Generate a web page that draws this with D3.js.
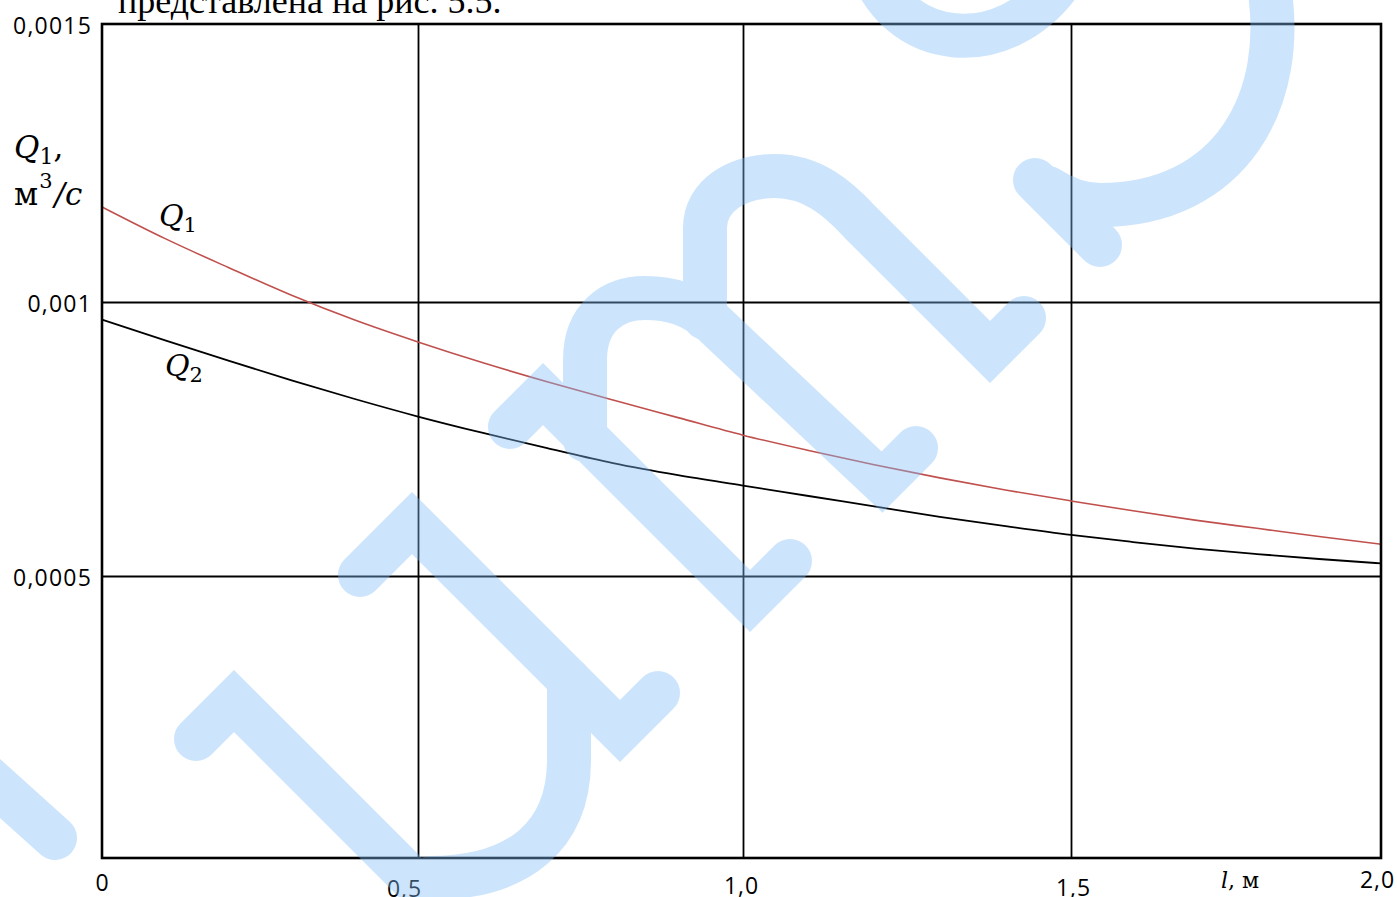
<!DOCTYPE html>
<html>
<head>
<meta charset="utf-8">
<script src="https://cdn.jsdelivr.net/npm/d3@7"></script>
<style>
  html, body { margin: 0; padding: 0; background: #fff; }
  svg { display: block; }
</style>
</head>
<body>
<svg id="chart" width="1397" height="897"></svg>
<script>
// Pipe length l, m
const lengths = [0, 0.1, 0.2, 0.3, 0.4, 0.5, 0.6, 0.7, 0.8, 0.9, 1.0,
                 1.1, 1.2, 1.3, 1.4, 1.5, 1.6, 1.7, 1.8, 1.9, 2.0];
// Flow rate Q1, m^3/s
const q1 = [0.001171, 0.001114, 0.001062, 0.001012, 0.000967, 0.000927, 0.000889,
            0.000854, 0.000821, 0.000789, 0.000757, 0.000729, 0.000703, 0.000679,
            0.000657, 0.000637, 0.000619, 0.000602, 0.000587, 0.000572, 0.000558];
// Flow rate Q2, m^3/s
const q2 = [0.000968, 0.000930, 0.000893, 0.000857, 0.000823, 0.000791, 0.000761,
            0.000733, 0.000706, 0.000684, 0.000665, 0.000646, 0.000627, 0.000608,
            0.000591, 0.000575, 0.000562, 0.000550, 0.000540, 0.000531, 0.000523];

const xTicks = [0, 0.5, 1.0, 1.5, 2.0];
const xTickLabels = ["0", "0,5", "1,0", "1,5", "2,0"];
const yTicks = [0, 0.0005, 0.001, 0.0015];
const yTickLabels = ["", "0,0005", "0,001", "0,0015"];

// ---- layout ----
const svg = d3.select("#chart");
const plot = { left: 102, right: 1381, top: 24, bottom: 858 };
// the printed grid is slightly uneven, so each grid cell gets its own span
const x = d3.scaleLinear().domain(xTicks).range([102, 418, 743, 1071, 1381]);
const y = d3.scaleLinear().domain(yTicks).range([858, 576, 302, 24]);
const xLabelNudge = [[0, -2], [-14, 4], [-2, 1], [2, 3], [-4, -5]];

const sans = "'Open Sans', 'DejaVu Sans', sans-serif";
const serif = "'Liberation Serif', 'DejaVu Serif', serif";
const math = "'DejaVu Serif', 'Liberation Serif', serif";

// running text of the page above the figure
svg.append("text")
  .attr("x", 118).attr("y", 13)
  .attr("font-family", serif).attr("font-size", 36).attr("fill", "#000")
  .text("представлена на рис. 5.5.");

// grid
const grid = svg.append("g");
grid.append("g")
  .attr("transform", `translate(0,${plot.bottom})`)
  .call(d3.axisBottom(x).tickValues([0.5, 1.0, 1.5])
        .tickSize(-(plot.bottom - plot.top)).tickFormat(""))
  .call(g => g.select(".domain").remove())
  .call(g => g.selectAll("line").attr("stroke", "#000").attr("stroke-width", 1.8));
grid.append("g")
  .attr("transform", `translate(${plot.left},0)`)
  .call(d3.axisLeft(y).tickValues([0.0005, 0.001])
        .tickSize(-(plot.right - plot.left)).tickFormat(""))
  .call(g => g.select(".domain").remove())
  .call(g => g.selectAll("line").attr("stroke", "#000").attr("stroke-width", 1.8));

// curves
const line = d3.line().x((d, i) => x(lengths[i])).y(d => y(d)).curve(d3.curveMonotoneX);
svg.append("path").datum(q1).attr("d", line)
  .attr("fill", "none").attr("stroke", "#c0504d").attr("stroke-width", 1.6);
svg.append("path").datum(q2).attr("d", line)
  .attr("fill", "none").attr("stroke", "#000").attr("stroke-width", 1.8);

// frame
svg.append("rect")
  .attr("x", plot.left).attr("y", plot.top)
  .attr("width", plot.right - plot.left).attr("height", plot.bottom - plot.top)
  .attr("fill", "none").attr("stroke", "#000").attr("stroke-width", 2.6);

// tick labels
svg.append("g")
  .attr("transform", `translate(${plot.left},0)`)
  .call(d3.axisLeft(y).tickValues(yTicks.slice(1)).tickSize(0).tickPadding(10)
        .tickFormat(d => yTickLabels[yTicks.indexOf(d)]))
  .call(g => g.select(".domain").remove())
  .call(g => g.selectAll("text")
        .attr("font-family", sans).attr("font-size", 23).attr("fill", "#000")
        .attr("letter-spacing", 1.2).attr("dy", "0.42em"));

svg.append("g")
  .attr("transform", `translate(0,${plot.bottom})`)
  .call(d3.axisBottom(x).tickValues(xTicks).tickSize(0).tickPadding(0)
        .tickFormat((d, i) => xTickLabels[i]))
  .call(g => g.select(".domain").remove())
  .call(g => g.selectAll("text")
        .attr("font-family", sans).attr("font-size", 23).attr("fill", "#000")
        .attr("letter-spacing", 1)
        .attr("y", 35).attr("dy", 0)
        .attr("dx", (d, i) => xLabelNudge[i][0])
        .attr("transform", (d, i) => `translate(0,${xLabelNudge[i][1]})`));

// axis titles
const yTitle = svg.append("g").attr("font-family", math).attr("fill", "#000");
const t1 = yTitle.append("text").attr("x", 14).attr("y", 158).attr("font-size", 31);
t1.append("tspan").attr("font-style", "italic").text("Q");
t1.append("tspan").attr("font-size", 22).attr("dy", 6).text("1");
t1.append("tspan").attr("dy", -6).text(",");
const t2 = yTitle.append("text").attr("x", 14).attr("y", 205).attr("font-size", 31);
t2.append("tspan").text("м");
t2.append("tspan").attr("font-size", 21).attr("dy", -17).attr("dx", 1).text("3");
t2.append("tspan").attr("dy", 17).attr("dx", 2).attr("font-style", "italic").text("/c");

const xTitle = svg.append("text").attr("x", 1221).attr("y", 888)
  .attr("font-family", math).attr("font-size", 22).attr("fill", "#000");
xTitle.append("tspan").attr("font-style", "italic").text("l");
xTitle.append("tspan").text(", м");

// curve labels
function curveLabel(px, py, sub) {
  const t = svg.append("text").attr("x", px).attr("y", py)
    .attr("font-family", math).attr("font-size", 30).attr("fill", "#000");
  t.append("tspan").attr("font-style", "italic").text("Q");
  t.append("tspan").attr("font-size", 21).attr("dy", 6).text(sub);
}
curveLabel(159, 226, "1");
curveLabel(165, 376, "2");

// site stamp laid over the page
const stamp = [
  "M-45,748 L55,838",
  "M196,739 L234,701 L440,907",
  "M569,680 L569,760 C569,835 520,878 430,878",
  "M360,575 L412,523 L620,731 L658,693",
  "M510,427 L543,394 L750,601 L790,561",
  "M585,440 L585,360 C585,318 612,298 645,298 C672,298 692,305 712,322 L882,482 L916,448",
  "M705,318 L705,228 C705,195 738,176 775,176 C812,176 838,198 860,222 L990,352 L1024,318",
  "M868,-40 C895,52 1005,62 1062,-20",
  "M1268,-20 C1290,100 1230,205 1100,205 C1080,205 1062,197 1048,188",
  "M1035,180 L1100,245"
];
svg.append("g").attr("opacity", 0.4)
  .selectAll("path").data(stamp).join("path")
  .attr("d", d => d)
  .attr("fill", "none").attr("stroke", "rgb(130,190,248)")
  .attr("stroke-width", 44).attr("stroke-linecap", "round")
  .attr("stroke-linejoin", "miter");
</script>
</body>
</html>
